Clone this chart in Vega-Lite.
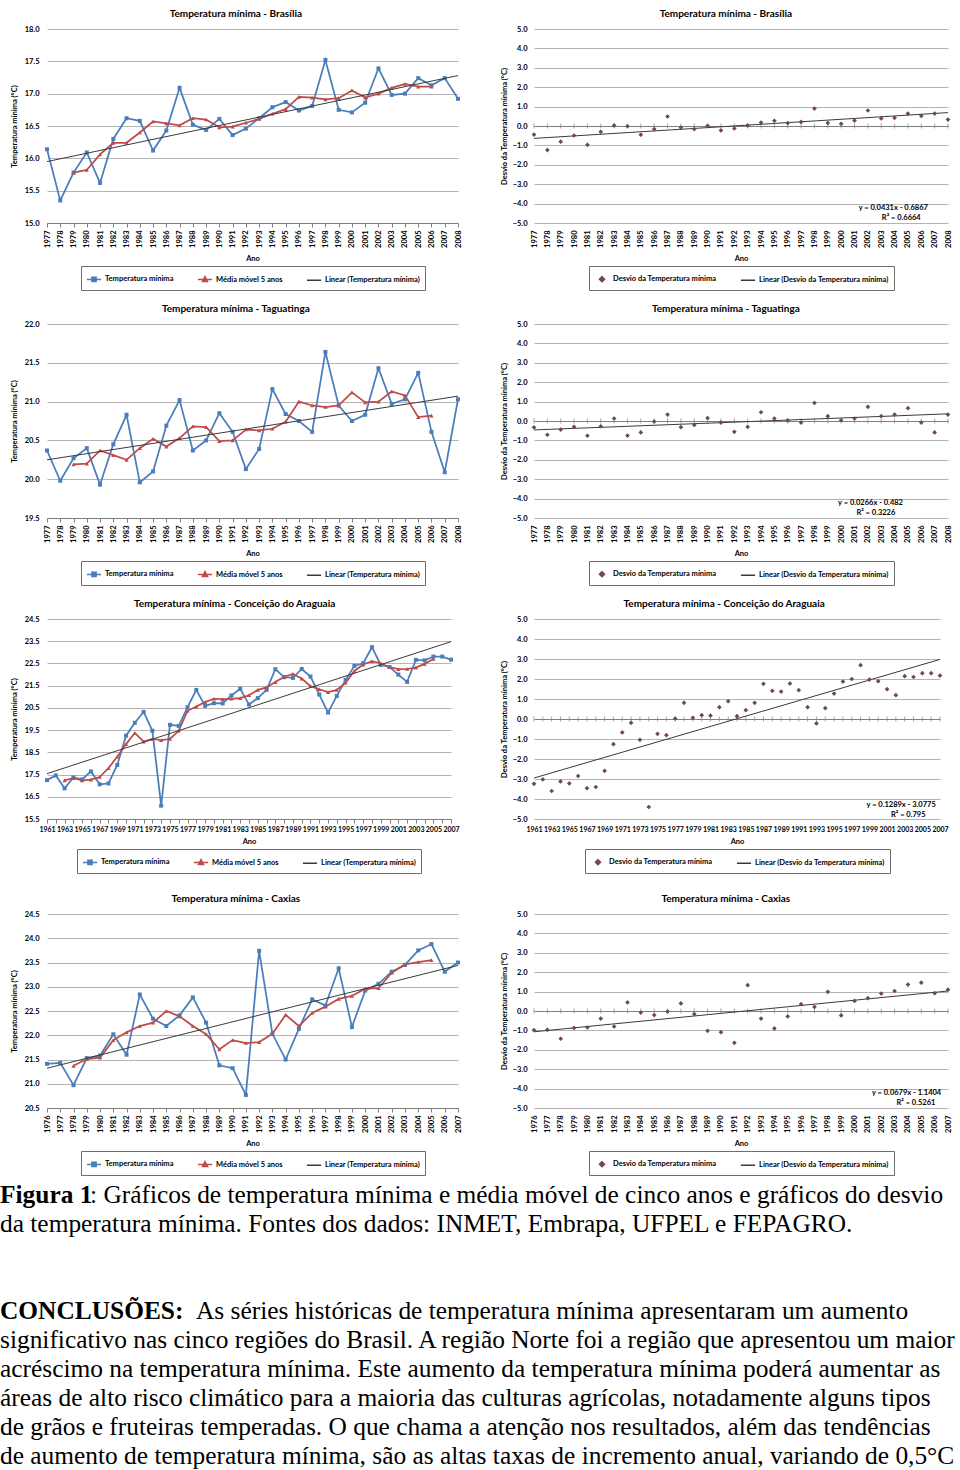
{
"$schema": "https://vega.github.io/schema/vega-lite/v6.json",
"usermeta": {"embedOptions": {"actions": false}},
"background": "white",
"padding": {"left": 0, "top": 9, "right": 0, "bottom": 0},
"autosize": {"type": "pad"},
"datasets": {
"bsb": [
{"ano":1977,"valor":16.14,"serie":"Temperatura mínima"},{"ano":1978,"valor":15.35,"serie":"Temperatura mínima"},{"ano":1979,"valor":15.78,"serie":"Temperatura mínima"},{"ano":1980,"valor":16.09,"serie":"Temperatura mínima"},{"ano":1981,"valor":15.62,"serie":"Temperatura mínima"},{"ano":1982,"valor":16.30,"serie":"Temperatura mínima"},{"ano":1983,"valor":16.62,"serie":"Temperatura mínima"},{"ano":1984,"valor":16.58,"serie":"Temperatura mínima"},{"ano":1985,"valor":16.12,"serie":"Temperatura mínima"},{"ano":1986,"valor":16.43,"serie":"Temperatura mínima"},{"ano":1987,"valor":17.09,"serie":"Temperatura mínima"},{"ano":1988,"valor":16.52,"serie":"Temperatura mínima"},{"ano":1989,"valor":16.44,"serie":"Temperatura mínima"},{"ano":1990,"valor":16.61,"serie":"Temperatura mínima"},{"ano":1991,"valor":16.36,"serie":"Temperatura mínima"},{"ano":1992,"valor":16.46,"serie":"Temperatura mínima"},{"ano":1993,"valor":16.62,"serie":"Temperatura mínima"},{"ano":1994,"valor":16.79,"serie":"Temperatura mínima"},{"ano":1995,"valor":16.87,"serie":"Temperatura mínima"},{"ano":1996,"valor":16.74,"serie":"Temperatura mínima"},{"ano":1997,"valor":16.81,"serie":"Temperatura mínima"},{"ano":1998,"valor":17.52,"serie":"Temperatura mínima"},{"ano":1999,"valor":16.75,"serie":"Temperatura mínima"},{"ano":2000,"valor":16.71,"serie":"Temperatura mínima"},{"ano":2001,"valor":16.86,"serie":"Temperatura mínima"},{"ano":2002,"valor":17.39,"serie":"Temperatura mínima"},{"ano":2003,"valor":16.98,"serie":"Temperatura mínima"},{"ano":2004,"valor":17.00,"serie":"Temperatura mínima"},{"ano":2005,"valor":17.24,"serie":"Temperatura mínima"},{"ano":2006,"valor":17.13,"serie":"Temperatura mínima"},{"ano":2007,"valor":17.24,"serie":"Temperatura mínima"},{"ano":2008,"valor":16.92,"serie":"Temperatura mínima"},
{"ano":1979,"valor":15.78,"serie":"Média móvel 5 anos"},{"ano":1980,"valor":15.82,"serie":"Média móvel 5 anos"},{"ano":1981,"valor":16.06,"serie":"Média móvel 5 anos"},{"ano":1982,"valor":16.24,"serie":"Média móvel 5 anos"},{"ano":1983,"valor":16.24,"serie":"Média móvel 5 anos"},{"ano":1984,"valor":16.40,"serie":"Média móvel 5 anos"},{"ano":1985,"valor":16.57,"serie":"Média móvel 5 anos"},{"ano":1986,"valor":16.54,"serie":"Média móvel 5 anos"},{"ano":1987,"valor":16.51,"serie":"Média móvel 5 anos"},{"ano":1988,"valor":16.62,"serie":"Média móvel 5 anos"},{"ano":1989,"valor":16.60,"serie":"Média móvel 5 anos"},{"ano":1990,"valor":16.48,"serie":"Média móvel 5 anos"},{"ano":1991,"valor":16.49,"serie":"Média móvel 5 anos"},{"ano":1992,"valor":16.55,"serie":"Média móvel 5 anos"},{"ano":1993,"valor":16.61,"serie":"Média móvel 5 anos"},{"ano":1994,"valor":16.69,"serie":"Média móvel 5 anos"},{"ano":1995,"valor":16.76,"serie":"Média móvel 5 anos"},{"ano":1996,"valor":16.95,"serie":"Média móvel 5 anos"},{"ano":1997,"valor":16.94,"serie":"Média móvel 5 anos"},{"ano":1998,"valor":16.91,"serie":"Média móvel 5 anos"},{"ano":1999,"valor":16.93,"serie":"Média móvel 5 anos"},{"ano":2000,"valor":17.05,"serie":"Média móvel 5 anos"},{"ano":2001,"valor":16.94,"serie":"Média móvel 5 anos"},{"ano":2002,"valor":17.00,"serie":"Média móvel 5 anos"},{"ano":2003,"valor":17.09,"serie":"Média móvel 5 anos"},{"ano":2004,"valor":17.15,"serie":"Média móvel 5 anos"},{"ano":2005,"valor":17.11,"serie":"Média móvel 5 anos"},{"ano":2006,"valor":17.11,"serie":"Média móvel 5 anos"},
{"ano":1977,"valor":15.95,"serie":"Linear (Temperatura mínima)"},{"ano":2008,"valor":17.28,"serie":"Linear (Temperatura mínima)"}
],
"bsbd": [
{"ano":1977,"valor":-0.44,"serie":"Desvio da Temperatura mínima"},{"ano":1978,"valor":-1.24,"serie":"Desvio da Temperatura mínima"},{"ano":1979,"valor":-0.81,"serie":"Desvio da Temperatura mínima"},{"ano":1980,"valor":-0.49,"serie":"Desvio da Temperatura mínima"},{"ano":1981,"valor":-0.97,"serie":"Desvio da Temperatura mínima"},{"ano":1982,"valor":-0.30,"serie":"Desvio da Temperatura mínima"},{"ano":1983,"valor":0.03,"serie":"Desvio da Temperatura mínima"},{"ano":1984,"valor":-0.01,"serie":"Desvio da Temperatura mínima"},{"ano":1985,"valor":-0.45,"serie":"Desvio da Temperatura mínima"},{"ano":1986,"valor":-0.16,"serie":"Desvio da Temperatura mínima"},{"ano":1987,"valor":0.49,"serie":"Desvio da Temperatura mínima"},{"ano":1988,"valor":-0.08,"serie":"Desvio da Temperatura mínima"},{"ano":1989,"valor":-0.16,"serie":"Desvio da Temperatura mínima"},{"ano":1990,"valor":0.01,"serie":"Desvio da Temperatura mínima"},{"ano":1991,"valor":-0.23,"serie":"Desvio da Temperatura mínima"},{"ano":1992,"valor":-0.13,"serie":"Desvio da Temperatura mínima"},{"ano":1993,"valor":0.03,"serie":"Desvio da Temperatura mínima"},{"ano":1994,"valor":0.18,"serie":"Desvio da Temperatura mínima"},{"ano":1995,"valor":0.27,"serie":"Desvio da Temperatura mínima"},{"ano":1996,"valor":0.15,"serie":"Desvio da Temperatura mínima"},{"ano":1997,"valor":0.21,"serie":"Desvio da Temperatura mínima"},{"ano":1998,"valor":0.90,"serie":"Desvio da Temperatura mínima"},{"ano":1999,"valor":0.16,"serie":"Desvio da Temperatura mínima"},{"ano":2000,"valor":0.11,"serie":"Desvio da Temperatura mínima"},{"ano":2001,"valor":0.28,"serie":"Desvio da Temperatura mínima"},{"ano":2002,"valor":0.80,"serie":"Desvio da Temperatura mínima"},{"ano":2003,"valor":0.39,"serie":"Desvio da Temperatura mínima"},{"ano":2004,"valor":0.42,"serie":"Desvio da Temperatura mínima"},{"ano":2005,"valor":0.64,"serie":"Desvio da Temperatura mínima"},{"ano":2006,"valor":0.52,"serie":"Desvio da Temperatura mínima"},{"ano":2007,"valor":0.64,"serie":"Desvio da Temperatura mínima"},{"ano":2008,"valor":0.33,"serie":"Desvio da Temperatura mínima"},
{"ano":1977,"valor":-0.64,"serie":"Linear (Desvio da Temperatura mínima)"},{"ano":2008,"valor":0.69,"serie":"Linear (Desvio da Temperatura mínima)"}
],
"tag": [
{"ano":1977,"valor":20.37,"serie":"Temperatura mínima"},{"ano":1978,"valor":19.98,"serie":"Temperatura mínima"},{"ano":1979,"valor":20.27,"serie":"Temperatura mínima"},{"ano":1980,"valor":20.40,"serie":"Temperatura mínima"},{"ano":1981,"valor":19.93,"serie":"Temperatura mínima"},{"ano":1982,"valor":20.45,"serie":"Temperatura mínima"},{"ano":1983,"valor":20.83,"serie":"Temperatura mínima"},{"ano":1984,"valor":19.96,"serie":"Temperatura mínima"},{"ano":1985,"valor":20.10,"serie":"Temperatura mínima"},{"ano":1986,"valor":20.69,"serie":"Temperatura mínima"},{"ano":1987,"valor":21.02,"serie":"Temperatura mínima"},{"ano":1988,"valor":20.37,"serie":"Temperatura mínima"},{"ano":1989,"valor":20.50,"serie":"Temperatura mínima"},{"ano":1990,"valor":20.85,"serie":"Temperatura mínima"},{"ano":1991,"valor":20.61,"serie":"Temperatura mínima"},{"ano":1992,"valor":20.13,"serie":"Temperatura mínima"},{"ano":1993,"valor":20.39,"serie":"Temperatura mínima"},{"ano":1994,"valor":21.16,"serie":"Temperatura mínima"},{"ano":1995,"valor":20.84,"serie":"Temperatura mínima"},{"ano":1996,"valor":20.75,"serie":"Temperatura mínima"},{"ano":1997,"valor":20.61,"serie":"Temperatura mínima"},{"ano":1998,"valor":21.64,"serie":"Temperatura mínima"},{"ano":1999,"valor":20.95,"serie":"Temperatura mínima"},{"ano":2000,"valor":20.75,"serie":"Temperatura mínima"},{"ano":2001,"valor":20.83,"serie":"Temperatura mínima"},{"ano":2002,"valor":21.43,"serie":"Temperatura mínima"},{"ano":2003,"valor":20.97,"serie":"Temperatura mínima"},{"ano":2004,"valor":21.03,"serie":"Temperatura mínima"},{"ano":2005,"valor":21.37,"serie":"Temperatura mínima"},{"ano":2006,"valor":20.61,"serie":"Temperatura mínima"},{"ano":2007,"valor":20.09,"serie":"Temperatura mínima"},{"ano":2008,"valor":21.03,"serie":"Temperatura mínima"},
{"ano":1979,"valor":20.19,"serie":"Média móvel 5 anos"},{"ano":1980,"valor":20.20,"serie":"Média móvel 5 anos"},{"ano":1981,"valor":20.37,"serie":"Média móvel 5 anos"},{"ano":1982,"valor":20.31,"serie":"Média móvel 5 anos"},{"ano":1983,"valor":20.25,"serie":"Média móvel 5 anos"},{"ano":1984,"valor":20.40,"serie":"Média móvel 5 anos"},{"ano":1985,"valor":20.52,"serie":"Média móvel 5 anos"},{"ano":1986,"valor":20.42,"serie":"Média móvel 5 anos"},{"ano":1987,"valor":20.53,"serie":"Média móvel 5 anos"},{"ano":1988,"valor":20.68,"serie":"Média móvel 5 anos"},{"ano":1989,"valor":20.67,"serie":"Média móvel 5 anos"},{"ano":1990,"valor":20.49,"serie":"Média móvel 5 anos"},{"ano":1991,"valor":20.50,"serie":"Média móvel 5 anos"},{"ano":1992,"valor":20.64,"serie":"Média móvel 5 anos"},{"ano":1993,"valor":20.63,"serie":"Média móvel 5 anos"},{"ano":1994,"valor":20.65,"serie":"Média móvel 5 anos"},{"ano":1995,"valor":20.74,"serie":"Média móvel 5 anos"},{"ano":1996,"valor":21.00,"serie":"Média móvel 5 anos"},{"ano":1997,"valor":20.95,"serie":"Média móvel 5 anos"},{"ano":1998,"valor":20.93,"serie":"Média móvel 5 anos"},{"ano":1999,"valor":20.95,"serie":"Média móvel 5 anos"},{"ano":2000,"valor":21.12,"serie":"Média móvel 5 anos"},{"ano":2001,"valor":20.99,"serie":"Média móvel 5 anos"},{"ano":2002,"valor":21.00,"serie":"Média móvel 5 anos"},{"ano":2003,"valor":21.13,"serie":"Média móvel 5 anos"},{"ano":2004,"valor":21.08,"serie":"Média móvel 5 anos"},{"ano":2005,"valor":20.80,"serie":"Média móvel 5 anos"},{"ano":2006,"valor":20.82,"serie":"Média móvel 5 anos"},
{"ano":1977,"valor":20.25,"serie":"Linear (Temperatura mínima)"},{"ano":2008,"valor":21.07,"serie":"Linear (Temperatura mínima)"}
],
"tagd": [
{"ano":1977,"valor":-0.33,"serie":"Desvio da Temperatura mínima"},{"ano":1978,"valor":-0.71,"serie":"Desvio da Temperatura mínima"},{"ano":1979,"valor":-0.44,"serie":"Desvio da Temperatura mínima"},{"ano":1980,"valor":-0.30,"serie":"Desvio da Temperatura mínima"},{"ano":1981,"valor":-0.76,"serie":"Desvio da Temperatura mínima"},{"ano":1982,"valor":-0.27,"serie":"Desvio da Temperatura mínima"},{"ano":1983,"valor":0.13,"serie":"Desvio da Temperatura mínima"},{"ano":1984,"valor":-0.75,"serie":"Desvio da Temperatura mínima"},{"ano":1985,"valor":-0.59,"serie":"Desvio da Temperatura mínima"},{"ano":1986,"valor":-0.03,"serie":"Desvio da Temperatura mínima"},{"ano":1987,"valor":0.33,"serie":"Desvio da Temperatura mínima"},{"ano":1988,"valor":-0.32,"serie":"Desvio da Temperatura mínima"},{"ano":1989,"valor":-0.20,"serie":"Desvio da Temperatura mínima"},{"ano":1990,"valor":0.15,"serie":"Desvio da Temperatura mínima"},{"ano":1991,"valor":-0.08,"serie":"Desvio da Temperatura mínima"},{"ano":1992,"valor":-0.56,"serie":"Desvio da Temperatura mínima"},{"ano":1993,"valor":-0.30,"serie":"Desvio da Temperatura mínima"},{"ano":1994,"valor":0.45,"serie":"Desvio da Temperatura mínima"},{"ano":1995,"valor":0.13,"serie":"Desvio da Temperatura mínima"},{"ano":1996,"valor":0.03,"serie":"Desvio da Temperatura mínima"},{"ano":1997,"valor":-0.08,"serie":"Desvio da Temperatura mínima"},{"ano":1998,"valor":0.93,"serie":"Desvio da Temperatura mínima"},{"ano":1999,"valor":0.25,"serie":"Desvio da Temperatura mínima"},{"ano":2000,"valor":0.04,"serie":"Desvio da Temperatura mínima"},{"ano":2001,"valor":0.13,"serie":"Desvio da Temperatura mínima"},{"ano":2002,"valor":0.73,"serie":"Desvio da Temperatura mínima"},{"ano":2003,"valor":0.25,"serie":"Desvio da Temperatura mínima"},{"ano":2004,"valor":0.33,"serie":"Desvio da Temperatura mínima"},{"ano":2005,"valor":0.66,"serie":"Desvio da Temperatura mínima"},{"ano":2006,"valor":-0.08,"serie":"Desvio da Temperatura mínima"},{"ano":2007,"valor":-0.59,"serie":"Desvio da Temperatura mínima"},{"ano":2008,"valor":0.33,"serie":"Desvio da Temperatura mínima"},
{"ano":1977,"valor":-0.46,"serie":"Linear (Desvio da Temperatura mínima)"},{"ano":2008,"valor":0.37,"serie":"Linear (Desvio da Temperatura mínima)"}
],
"cda": [
{"ano":1961,"valor":17.25,"serie":"Temperatura mínima"},{"ano":1962,"valor":17.46,"serie":"Temperatura mínima"},{"ano":1963,"valor":16.88,"serie":"Temperatura mínima"},{"ano":1964,"valor":17.37,"serie":"Temperatura mínima"},{"ano":1965,"valor":17.28,"serie":"Temperatura mínima"},{"ano":1966,"valor":17.64,"serie":"Temperatura mínima"},{"ano":1967,"valor":17.06,"serie":"Temperatura mínima"},{"ano":1968,"valor":17.10,"serie":"Temperatura mínima"},{"ano":1969,"valor":17.93,"serie":"Temperatura mínima"},{"ano":1970,"valor":19.25,"serie":"Temperatura mínima"},{"ano":1971,"valor":19.83,"serie":"Temperatura mínima"},{"ano":1972,"valor":20.32,"serie":"Temperatura mínima"},{"ano":1973,"valor":19.47,"serie":"Temperatura mínima"},{"ano":1974,"valor":16.10,"serie":"Temperatura mínima"},{"ano":1975,"valor":19.74,"serie":"Temperatura mínima"},{"ano":1976,"valor":19.69,"serie":"Temperatura mínima"},{"ano":1977,"valor":20.53,"serie":"Temperatura mínima"},{"ano":1978,"valor":21.31,"serie":"Temperatura mínima"},{"ano":1979,"valor":20.59,"serie":"Temperatura mínima"},{"ano":1980,"valor":20.71,"serie":"Temperatura mínima"},{"ano":1981,"valor":20.70,"serie":"Temperatura mínima"},{"ano":1982,"valor":21.06,"serie":"Temperatura mínima"},{"ano":1983,"valor":21.36,"serie":"Temperatura mínima"},{"ano":1984,"valor":20.65,"serie":"Temperatura mínima"},{"ano":1985,"valor":20.94,"serie":"Temperatura mínima"},{"ano":1986,"valor":21.31,"serie":"Temperatura mínima"},{"ano":1987,"valor":22.24,"serie":"Temperatura mínima"},{"ano":1988,"valor":21.88,"serie":"Temperatura mínima"},{"ano":1989,"valor":21.85,"serie":"Temperatura mínima"},{"ano":1990,"valor":22.25,"serie":"Temperatura mínima"},{"ano":1991,"valor":21.91,"serie":"Temperatura mínima"},{"ano":1992,"valor":21.10,"serie":"Temperatura mínima"},{"ano":1993,"valor":20.29,"serie":"Temperatura mínima"},{"ano":1994,"valor":21.04,"serie":"Temperatura mínima"},{"ano":1995,"valor":21.76,"serie":"Temperatura mínima"},{"ano":1996,"valor":22.39,"serie":"Temperatura mínima"},{"ano":1997,"valor":22.51,"serie":"Temperatura mínima"},{"ano":1998,"valor":23.23,"serie":"Temperatura mínima"},{"ano":1999,"valor":22.43,"serie":"Temperatura mínima"},{"ano":2000,"valor":22.34,"serie":"Temperatura mínima"},{"ano":2001,"valor":22.00,"serie":"Temperatura mínima"},{"ano":2002,"valor":21.67,"serie":"Temperatura mínima"},{"ano":2003,"valor":22.66,"serie":"Temperatura mínima"},{"ano":2004,"valor":22.64,"serie":"Temperatura mínima"},{"ano":2005,"valor":22.81,"serie":"Temperatura mínima"},{"ano":2006,"valor":22.81,"serie":"Temperatura mínima"},{"ano":2007,"valor":22.67,"serie":"Temperatura mínima"},
{"ano":1963,"valor":17.24,"serie":"Média móvel 5 anos"},{"ano":1964,"valor":17.34,"serie":"Média móvel 5 anos"},{"ano":1965,"valor":17.24,"serie":"Média móvel 5 anos"},{"ano":1966,"valor":17.27,"serie":"Média móvel 5 anos"},{"ano":1967,"valor":17.39,"serie":"Média móvel 5 anos"},{"ano":1968,"valor":17.79,"serie":"Média móvel 5 anos"},{"ano":1969,"valor":18.30,"serie":"Média móvel 5 anos"},{"ano":1970,"valor":18.87,"serie":"Média móvel 5 anos"},{"ano":1971,"valor":19.37,"serie":"Média móvel 5 anos"},{"ano":1972,"valor":18.98,"serie":"Média móvel 5 anos"},{"ano":1973,"valor":19.10,"serie":"Média móvel 5 anos"},{"ano":1974,"valor":19.05,"serie":"Média móvel 5 anos"},{"ano":1975,"valor":19.10,"serie":"Média móvel 5 anos"},{"ano":1976,"valor":19.47,"serie":"Média móvel 5 anos"},{"ano":1977,"valor":20.37,"serie":"Média móvel 5 anos"},{"ano":1978,"valor":20.56,"serie":"Média móvel 5 anos"},{"ano":1979,"valor":20.76,"serie":"Média móvel 5 anos"},{"ano":1980,"valor":20.91,"serie":"Média móvel 5 anos"},{"ano":1981,"valor":20.89,"serie":"Média móvel 5 anos"},{"ano":1982,"valor":20.91,"serie":"Média móvel 5 anos"},{"ano":1983,"valor":20.94,"serie":"Média móvel 5 anos"},{"ano":1984,"valor":21.07,"serie":"Média móvel 5 anos"},{"ano":1985,"valor":21.31,"serie":"Média móvel 5 anos"},{"ano":1986,"valor":21.42,"serie":"Média móvel 5 anos"},{"ano":1987,"valor":21.66,"serie":"Média móvel 5 anos"},{"ano":1988,"valor":21.90,"serie":"Média móvel 5 anos"},{"ano":1989,"valor":22.03,"serie":"Média móvel 5 anos"},{"ano":1990,"valor":21.82,"serie":"Média móvel 5 anos"},{"ano":1991,"valor":21.48,"serie":"Média móvel 5 anos"},{"ano":1992,"valor":21.34,"serie":"Média móvel 5 anos"},{"ano":1993,"valor":21.21,"serie":"Média móvel 5 anos"},{"ano":1994,"valor":21.31,"serie":"Média móvel 5 anos"},{"ano":1995,"valor":21.63,"serie":"Média móvel 5 anos"},{"ano":1996,"valor":22.16,"serie":"Média móvel 5 anos"},{"ano":1997,"valor":22.45,"serie":"Média móvel 5 anos"},{"ano":1998,"valor":22.60,"serie":"Média móvel 5 anos"},{"ano":1999,"valor":22.51,"serie":"Média móvel 5 anos"},{"ano":2000,"valor":22.33,"serie":"Média móvel 5 anos"},{"ano":2001,"valor":22.24,"serie":"Média móvel 5 anos"},{"ano":2002,"valor":22.25,"serie":"Média móvel 5 anos"},{"ano":2003,"valor":22.31,"serie":"Média móvel 5 anos"},{"ano":2004,"valor":22.48,"serie":"Média móvel 5 anos"},{"ano":2005,"valor":22.70,"serie":"Média móvel 5 anos"},
{"ano":1961,"valor":17.54,"serie":"Linear (Temperatura mínima)"},{"ano":2007,"valor":23.48,"serie":"Linear (Temperatura mínima)"}
],
"cdad": [
{"ano":1961,"valor":-3.24,"serie":"Desvio da Temperatura mínima"},{"ano":1962,"valor":-3.02,"serie":"Desvio da Temperatura mínima"},{"ano":1963,"valor":-3.60,"serie":"Desvio da Temperatura mínima"},{"ano":1964,"valor":-3.12,"serie":"Desvio da Temperatura mínima"},{"ano":1965,"valor":-3.22,"serie":"Desvio da Temperatura mínima"},{"ano":1966,"valor":-2.85,"serie":"Desvio da Temperatura mínima"},{"ano":1967,"valor":-3.46,"serie":"Desvio da Temperatura mínima"},{"ano":1968,"valor":-3.40,"serie":"Desvio da Temperatura mínima"},{"ano":1969,"valor":-2.59,"serie":"Desvio da Temperatura mínima"},{"ano":1970,"valor":-1.26,"serie":"Desvio da Temperatura mínima"},{"ano":1971,"valor":-0.67,"serie":"Desvio da Temperatura mínima"},{"ano":1972,"valor":-0.19,"serie":"Desvio da Temperatura mínima"},{"ano":1973,"valor":-1.04,"serie":"Desvio da Temperatura mínima"},{"ano":1974,"valor":-4.40,"serie":"Desvio da Temperatura mínima"},{"ano":1975,"valor":-0.74,"serie":"Desvio da Temperatura mínima"},{"ano":1976,"valor":-0.81,"serie":"Desvio da Temperatura mínima"},{"ano":1977,"valor":0.02,"serie":"Desvio da Temperatura mínima"},{"ano":1978,"valor":0.81,"serie":"Desvio da Temperatura mínima"},{"ano":1979,"valor":0.06,"serie":"Desvio da Temperatura mínima"},{"ano":1980,"valor":0.19,"serie":"Desvio da Temperatura mínima"},{"ano":1981,"valor":0.17,"serie":"Desvio da Temperatura mínima"},{"ano":1982,"valor":0.59,"serie":"Desvio da Temperatura mínima"},{"ano":1983,"valor":0.89,"serie":"Desvio da Temperatura mínima"},{"ano":1984,"valor":0.14,"serie":"Desvio da Temperatura mínima"},{"ano":1985,"valor":0.44,"serie":"Desvio da Temperatura mínima"},{"ano":1986,"valor":0.81,"serie":"Desvio da Temperatura mínima"},{"ano":1987,"valor":1.76,"serie":"Desvio da Temperatura mínima"},{"ano":1988,"valor":1.41,"serie":"Desvio da Temperatura mínima"},{"ano":1989,"valor":1.37,"serie":"Desvio da Temperatura mínima"},{"ano":1990,"valor":1.77,"serie":"Desvio da Temperatura mínima"},{"ano":1991,"valor":1.44,"serie":"Desvio da Temperatura mínima"},{"ano":1992,"valor":0.59,"serie":"Desvio da Temperatura mínima"},{"ano":1993,"valor":-0.22,"serie":"Desvio da Temperatura mínima"},{"ano":1994,"valor":0.54,"serie":"Desvio da Temperatura mínima"},{"ano":1995,"valor":1.27,"serie":"Desvio da Temperatura mínima"},{"ano":1996,"valor":1.87,"serie":"Desvio da Temperatura mínima"},{"ano":1997,"valor":2.00,"serie":"Desvio da Temperatura mínima"},{"ano":1998,"valor":2.69,"serie":"Desvio da Temperatura mínima"},{"ano":1999,"valor":1.97,"serie":"Desvio da Temperatura mínima"},{"ano":2000,"valor":1.89,"serie":"Desvio da Temperatura mínima"},{"ano":2001,"valor":1.49,"serie":"Desvio da Temperatura mínima"},{"ano":2002,"valor":1.19,"serie":"Desvio da Temperatura mínima"},{"ano":2003,"valor":2.14,"serie":"Desvio da Temperatura mínima"},{"ano":2004,"valor":2.10,"serie":"Desvio da Temperatura mínima"},{"ano":2005,"valor":2.29,"serie":"Desvio da Temperatura mínima"},{"ano":2006,"valor":2.29,"serie":"Desvio da Temperatura mínima"},{"ano":2007,"valor":2.17,"serie":"Desvio da Temperatura mínima"},
{"ano":1961,"valor":-2.95,"serie":"Linear (Desvio da Temperatura mínima)"},{"ano":2007,"valor":2.98,"serie":"Linear (Desvio da Temperatura mínima)"}
],
"cax": [
{"ano":1976,"valor":21.41,"serie":"Temperatura mínima"},{"ano":1977,"valor":21.43,"serie":"Temperatura mínima"},{"ano":1978,"valor":20.97,"serie":"Temperatura mínima"},{"ano":1979,"valor":21.53,"serie":"Temperatura mínima"},{"ano":1980,"valor":21.58,"serie":"Temperatura mínima"},{"ano":1981,"valor":22.02,"serie":"Temperatura mínima"},{"ano":1982,"valor":21.60,"serie":"Temperatura mínima"},{"ano":1983,"valor":22.84,"serie":"Temperatura mínima"},{"ano":1984,"valor":22.34,"serie":"Temperatura mínima"},{"ano":1985,"valor":22.19,"serie":"Temperatura mínima"},{"ano":1986,"valor":22.41,"serie":"Temperatura mínima"},{"ano":1987,"valor":22.78,"serie":"Temperatura mínima"},{"ano":1988,"valor":22.26,"serie":"Temperatura mínima"},{"ano":1989,"valor":21.38,"serie":"Temperatura mínima"},{"ano":1990,"valor":21.32,"serie":"Temperatura mínima"},{"ano":1991,"valor":20.77,"serie":"Temperatura mínima"},{"ano":1992,"valor":23.74,"serie":"Temperatura mínima"},{"ano":1993,"valor":22.03,"serie":"Temperatura mínima"},{"ano":1994,"valor":21.50,"serie":"Temperatura mínima"},{"ano":1995,"valor":22.13,"serie":"Temperatura mínima"},{"ano":1996,"valor":22.74,"serie":"Temperatura mínima"},{"ano":1997,"valor":22.61,"serie":"Temperatura mínima"},{"ano":1998,"valor":23.38,"serie":"Temperatura mínima"},{"ano":1999,"valor":22.17,"serie":"Temperatura mínima"},{"ano":2000,"valor":22.92,"serie":"Temperatura mínima"},{"ano":2001,"valor":23.06,"serie":"Temperatura mínima"},{"ano":2002,"valor":23.31,"serie":"Temperatura mínima"},{"ano":2003,"valor":23.45,"serie":"Temperatura mínima"},{"ano":2004,"valor":23.75,"serie":"Temperatura mínima"},{"ano":2005,"valor":23.88,"serie":"Temperatura mínima"},{"ano":2006,"valor":23.31,"serie":"Temperatura mínima"},{"ano":2007,"valor":23.50,"serie":"Temperatura mínima"},
{"ano":1978,"valor":21.37,"serie":"Média móvel 5 anos"},{"ano":1979,"valor":21.51,"serie":"Média móvel 5 anos"},{"ano":1980,"valor":21.54,"serie":"Média móvel 5 anos"},{"ano":1981,"valor":21.90,"serie":"Média móvel 5 anos"},{"ano":1982,"valor":22.06,"serie":"Média móvel 5 anos"},{"ano":1983,"valor":22.19,"serie":"Média móvel 5 anos"},{"ano":1984,"valor":22.26,"serie":"Média móvel 5 anos"},{"ano":1985,"valor":22.50,"serie":"Média móvel 5 anos"},{"ano":1986,"valor":22.39,"serie":"Média móvel 5 anos"},{"ano":1987,"valor":22.19,"serie":"Média móvel 5 anos"},{"ano":1988,"valor":22.02,"serie":"Média móvel 5 anos"},{"ano":1989,"valor":21.71,"serie":"Média móvel 5 anos"},{"ano":1990,"valor":21.90,"serie":"Média móvel 5 anos"},{"ano":1991,"valor":21.84,"serie":"Média móvel 5 anos"},{"ano":1992,"valor":21.86,"serie":"Média móvel 5 anos"},{"ano":1993,"valor":22.03,"serie":"Média móvel 5 anos"},{"ano":1994,"valor":22.42,"serie":"Média móvel 5 anos"},{"ano":1995,"valor":22.19,"serie":"Média móvel 5 anos"},{"ano":1996,"valor":22.46,"serie":"Média móvel 5 anos"},{"ano":1997,"valor":22.59,"serie":"Média móvel 5 anos"},{"ano":1998,"valor":22.75,"serie":"Média móvel 5 anos"},{"ano":1999,"valor":22.81,"serie":"Média móvel 5 anos"},{"ano":2000,"valor":22.96,"serie":"Média móvel 5 anos"},{"ano":2001,"valor":22.97,"serie":"Média móvel 5 anos"},{"ano":2002,"valor":23.29,"serie":"Média móvel 5 anos"},{"ano":2003,"valor":23.46,"serie":"Média móvel 5 anos"},{"ano":2004,"valor":23.51,"serie":"Média móvel 5 anos"},{"ano":2005,"valor":23.55,"serie":"Média móvel 5 anos"},
{"ano":1976,"valor":21.32,"serie":"Linear (Temperatura mínima)"},{"ano":2007,"valor":23.44,"serie":"Linear (Temperatura mínima)"}
],
"caxd": [
{"ano":1976,"valor":-0.99,"serie":"Desvio da Temperatura mínima"},{"ano":1977,"valor":-0.97,"serie":"Desvio da Temperatura mínima"},{"ano":1978,"valor":-1.43,"serie":"Desvio da Temperatura mínima"},{"ano":1979,"valor":-0.87,"serie":"Desvio da Temperatura mínima"},{"ano":1980,"valor":-0.85,"serie":"Desvio da Temperatura mínima"},{"ano":1981,"valor":-0.39,"serie":"Desvio da Temperatura mínima"},{"ano":1982,"valor":-0.80,"serie":"Desvio da Temperatura mínima"},{"ano":1983,"valor":0.44,"serie":"Desvio da Temperatura mínima"},{"ano":1984,"valor":-0.08,"serie":"Desvio da Temperatura mínima"},{"ano":1985,"valor":-0.21,"serie":"Desvio da Temperatura mínima"},{"ano":1986,"valor":-0.03,"serie":"Desvio da Temperatura mínima"},{"ano":1987,"valor":0.39,"serie":"Desvio da Temperatura mínima"},{"ano":1988,"valor":-0.16,"serie":"Desvio da Temperatura mínima"},{"ano":1989,"valor":-1.02,"serie":"Desvio da Temperatura mínima"},{"ano":1990,"valor":-1.09,"serie":"Desvio da Temperatura mínima"},{"ano":1991,"valor":-1.64,"serie":"Desvio da Temperatura mínima"},{"ano":1992,"valor":1.33,"serie":"Desvio da Temperatura mínima"},{"ano":1993,"valor":-0.39,"serie":"Desvio da Temperatura mínima"},{"ano":1994,"valor":-0.90,"serie":"Desvio da Temperatura mínima"},{"ano":1995,"valor":-0.28,"serie":"Desvio da Temperatura mínima"},{"ano":1996,"valor":0.35,"serie":"Desvio da Temperatura mínima"},{"ano":1997,"valor":0.21,"serie":"Desvio da Temperatura mínima"},{"ano":1998,"valor":0.99,"serie":"Desvio da Temperatura mínima"},{"ano":1999,"valor":-0.23,"serie":"Desvio da Temperatura mínima"},{"ano":2000,"valor":0.52,"serie":"Desvio da Temperatura mínima"},{"ano":2001,"valor":0.66,"serie":"Desvio da Temperatura mínima"},{"ano":2002,"valor":0.90,"serie":"Desvio da Temperatura mínima"},{"ano":2003,"valor":1.03,"serie":"Desvio da Temperatura mínima"},{"ano":2004,"valor":1.36,"serie":"Desvio da Temperatura mínima"},{"ano":2005,"valor":1.46,"serie":"Desvio da Temperatura mínima"},{"ano":2006,"valor":0.92,"serie":"Desvio da Temperatura mínima"},{"ano":2007,"valor":1.10,"serie":"Desvio da Temperatura mínima"},
{"ano":1976,"valor":-1.07,"serie":"Linear (Desvio da Temperatura mínima)"},{"ano":2007,"valor":1.03,"serie":"Linear (Desvio da Temperatura mínima)"}
],
"txt": [
{"linha":0,"estilo":"negrito","texto":"Figura 1"},
{"linha":0,"estilo":"cont1","texto":": Gráficos de temperatura mínima e média móvel de cinco anos e gráficos do desvio"},
{"linha":1,"estilo":"normal","texto":"da temperatura mínima. Fontes dos dados: INMET, Embrapa, UFPEL e FEPAGRO."},
{"linha":4,"estilo":"negrito","texto":"CONCLUSÕES:"},
{"linha":4,"estilo":"cont2","texto":"As séries históricas de temperatura mínima apresentaram um aumento"},
{"linha":5,"estilo":"normal","texto":"significativo nas cinco regiões do Brasil. A região Norte foi a região que apresentou um maior"},
{"linha":6,"estilo":"normal","texto":"acréscimo na temperatura mínima. Este aumento da temperatura mínima poderá aumentar as"},
{"linha":7,"estilo":"normal","texto":"áreas de alto risco climático para a maioria das culturas agrícolas, notadamente alguns tipos"},
{"linha":8,"estilo":"normal","texto":"de grãos e fruteiras temperadas. O que chama a atenção nos resultados, além das tendências"},
{"linha":9,"estilo":"normal","texto":"de aumento de temperatura mínima, são as altas taxas de incremento anual, variando de 0,5°C"}
]
},
"resolve": {"scale": {"color": "independent", "shape": "independent"}, "legend": {"color": "independent", "shape": "independent"}},
"bounds": "flush",
"spacing": 295,
"vconcat": [
{
"hconcat": [
{
"width": 411, "height": 194,
"title": "Temperatura mínima - Brasília",
"data": {"name": "bsb"},
"encoding": {
"x": {"field": "ano", "type": "quantitative", "title": "Ano", "scale": {"domain": [1977, 2008], "nice": false, "zero": false}, "axis": {"values": [1977,1978,1979,1980,1981,1982,1983,1984,1985,1986,1987,1988,1989,1990,1991,1992,1993,1994,1995,1996,1997,1998,1999,2000,2001,2002,2003,2004,2005,2006,2007,2008], "labelAngle": -90, "format": "d"}},
"y": {"field": "valor", "type": "quantitative", "title": "Temperatura mínima (°C)", "scale": {"domain": [15, 18], "nice": false, "zero": false}, "axis": {"values": [15,15.5,16,16.5,17,17.5,18], "format": ".1f"}},
"color": {"field": "serie", "type": "nominal", "scale": {"domain": ["Temperatura mínima", "Média móvel 5 anos", "Linear (Temperatura mínima)"], "range": ["#4a7ebb", "#be4b48", "#3a3a3a"]}, "legend": {"title": null}}
},
"layer": [
{"transform": [{"filter": "datum.serie !== 'Linear (Temperatura mínima)'"}], "mark": {"type": "line", "strokeWidth": 1.75}},
{"transform": [{"filter": "datum.serie === 'Temperatura mínima'"}], "mark": {"type": "point", "shape": "square", "filled": true, "opacity": 1, "size": 16}},
{"transform": [{"filter": "datum.serie === 'Média móvel 5 anos'"}], "mark": {"type": "point", "shape": "triangle-up", "filled": true, "opacity": 1, "size": 18}},
{"transform": [{"filter": "datum.serie === 'Linear (Temperatura mínima)'"}], "mark": {"type": "line", "strokeWidth": 1}},
{"transform": [{"filter": "false"}], "mark": {"type": "point", "filled": false, "opacity": 1}, "encoding": {"shape": {"field": "serie", "type": "nominal", "scale": {"domain": ["Temperatura mínima", "Média móvel 5 anos", "Linear (Temperatura mínima)"], "range": ["M-1,0H1M-0.3,-0.3H0.3V0.3H-0.3Z", "M-1,0H1M0,-0.42L0.36,0.26H-0.36Z", "M-1,0H1"]}, "legend": {"title": null}}}}
]
},
{
"width": 414, "height": 194,
"title": "Temperatura mínima - Brasília",
"data": {"name": "bsbd"},
"encoding": {
"x": {"field": "ano", "type": "quantitative", "title": "Ano", "scale": {"domain": [1977, 2008], "nice": false, "zero": false}, "axis": {"values": [1977,1978,1979,1980,1981,1982,1983,1984,1985,1986,1987,1988,1989,1990,1991,1992,1993,1994,1995,1996,1997,1998,1999,2000,2001,2002,2003,2004,2005,2006,2007,2008], "labelAngle": -90, "format": "d", "domain": false, "ticks": false, "labelPadding": 7}},
"y": {"field": "valor", "type": "quantitative", "title": "Desvio da Temperatura mínima (°C)", "scale": {"domain": [-5, 5], "nice": false, "zero": false}, "axis": {"values": [-5,-4,-3,-2,-1,0,1,2,3,4,5], "format": ".1f", "labelPadding": 7, "titlePadding": 4, "gridColor": {"condition": {"test": "datum.value === 0", "value": "#7f7f7f"}, "value": "#b4b4b4"}}},
"color": {"field": "serie", "type": "nominal", "scale": {"domain": ["Desvio da Temperatura mínima", "Linear (Desvio da Temperatura mínima)"], "range": ["#73474f", "#3a3a3a"]}, "legend": {"title": null}}
},
"layer": [
{"transform": [{"filter": "datum.serie === 'Desvio da Temperatura mínima'"}], "mark": {"type": "tick", "orient": "vertical", "size": 5, "thickness": 1}, "encoding": {"y": {"datum": 0}, "color": {"value": "#7f7f7f"}}},
{"transform": [{"filter": "datum.serie === 'Linear (Desvio da Temperatura mínima)'"}], "mark": {"type": "line", "strokeWidth": 1}},
{"transform": [{"filter": "datum.serie === 'Desvio da Temperatura mínima'"}], "mark": {"type": "point", "shape": "diamond", "filled": true, "opacity": 1, "size": 22}},
{"transform": [{"filter": "false"}], "mark": {"type": "point", "filled": false, "opacity": 1}, "encoding": {"shape": {"field": "serie", "type": "nominal", "scale": {"domain": ["Desvio da Temperatura mínima", "Linear (Desvio da Temperatura mínima)"], "range": ["M0,-0.36L0.36,0L0,0.36L-0.36,0Z", "M-1,0H1"]}, "legend": {"title": null}}}},
{"transform": [{"filter": "datum.serie === 'Linear (Desvio da Temperatura mínima)' && datum.ano === 2008"}], "mark": {"type": "text", "font": "Lato", "fontSize": 7.5, "fontWeight": "bold", "align": "center", "baseline": "middle", "color": "#000000"}, "encoding": {"x": {"datum": 2003.9, "type": "quantitative"}, "y": {"datum": -4.23, "type": "quantitative"}, "text": {"value": "y = 0.0431x - 0.6867"}, "color": {"value": "#000000"}}},
{"transform": [{"filter": "datum.serie === 'Linear (Desvio da Temperatura mínima)' && datum.ano === 2008"}], "mark": {"type": "text", "font": "Lato", "fontSize": 7.5, "fontWeight": "bold", "align": "center", "baseline": "middle", "color": "#000000"}, "encoding": {"x": {"datum": 2004.5, "type": "quantitative"}, "y": {"datum": -4.76, "type": "quantitative"}, "text": {"value": "R² = 0.6664"}, "color": {"value": "#000000"}}}
]
}
],
"spacing": 76, "bounds": "flush",
"resolve": {"scale": {"color": "independent", "shape": "independent"}, "legend": {"color": "independent", "shape": "independent"}}
},
{
"hconcat": [
{
"width": 411, "height": 194,
"title": "Temperatura mínima - Taguatinga",
"data": {"name": "tag"},
"encoding": {
"x": {"field": "ano", "type": "quantitative", "title": "Ano", "scale": {"domain": [1977, 2008], "nice": false, "zero": false}, "axis": {"values": [1977,1978,1979,1980,1981,1982,1983,1984,1985,1986,1987,1988,1989,1990,1991,1992,1993,1994,1995,1996,1997,1998,1999,2000,2001,2002,2003,2004,2005,2006,2007,2008], "labelAngle": -90, "format": "d"}},
"y": {"field": "valor", "type": "quantitative", "title": "Temperatura mínima (°C)", "scale": {"domain": [19.5, 22], "nice": false, "zero": false}, "axis": {"values": [19.5,20,20.5,21,21.5,22], "format": ".1f"}},
"color": {"field": "serie", "type": "nominal", "scale": {"domain": ["Temperatura mínima", "Média móvel 5 anos", "Linear (Temperatura mínima)"], "range": ["#4a7ebb", "#be4b48", "#3a3a3a"]}, "legend": {"title": null}}
},
"layer": [
{"transform": [{"filter": "datum.serie !== 'Linear (Temperatura mínima)'"}], "mark": {"type": "line", "strokeWidth": 1.75}},
{"transform": [{"filter": "datum.serie === 'Temperatura mínima'"}], "mark": {"type": "point", "shape": "square", "filled": true, "opacity": 1, "size": 16}},
{"transform": [{"filter": "datum.serie === 'Média móvel 5 anos'"}], "mark": {"type": "point", "shape": "triangle-up", "filled": true, "opacity": 1, "size": 18}},
{"transform": [{"filter": "datum.serie === 'Linear (Temperatura mínima)'"}], "mark": {"type": "line", "strokeWidth": 1}},
{"transform": [{"filter": "false"}], "mark": {"type": "point", "filled": false, "opacity": 1}, "encoding": {"shape": {"field": "serie", "type": "nominal", "scale": {"domain": ["Temperatura mínima", "Média móvel 5 anos", "Linear (Temperatura mínima)"], "range": ["M-1,0H1M-0.3,-0.3H0.3V0.3H-0.3Z", "M-1,0H1M0,-0.42L0.36,0.26H-0.36Z", "M-1,0H1"]}, "legend": {"title": null}}}}
]
},
{
"width": 414, "height": 194,
"title": "Temperatura mínima - Taguatinga",
"data": {"name": "tagd"},
"encoding": {
"x": {"field": "ano", "type": "quantitative", "title": "Ano", "scale": {"domain": [1977, 2008], "nice": false, "zero": false}, "axis": {"values": [1977,1978,1979,1980,1981,1982,1983,1984,1985,1986,1987,1988,1989,1990,1991,1992,1993,1994,1995,1996,1997,1998,1999,2000,2001,2002,2003,2004,2005,2006,2007,2008], "labelAngle": -90, "format": "d", "domain": false, "ticks": false, "labelPadding": 7}},
"y": {"field": "valor", "type": "quantitative", "title": "Desvio da Temperatura mínima (°C)", "scale": {"domain": [-5, 5], "nice": false, "zero": false}, "axis": {"values": [-5,-4,-3,-2,-1,0,1,2,3,4,5], "format": ".1f", "labelPadding": 7, "titlePadding": 4, "gridColor": {"condition": {"test": "datum.value === 0", "value": "#7f7f7f"}, "value": "#b4b4b4"}}},
"color": {"field": "serie", "type": "nominal", "scale": {"domain": ["Desvio da Temperatura mínima", "Linear (Desvio da Temperatura mínima)"], "range": ["#73474f", "#3a3a3a"]}, "legend": {"title": null}}
},
"layer": [
{"transform": [{"filter": "datum.serie === 'Desvio da Temperatura mínima'"}], "mark": {"type": "tick", "orient": "vertical", "size": 5, "thickness": 1}, "encoding": {"y": {"datum": 0}, "color": {"value": "#7f7f7f"}}},
{"transform": [{"filter": "datum.serie === 'Linear (Desvio da Temperatura mínima)'"}], "mark": {"type": "line", "strokeWidth": 1}},
{"transform": [{"filter": "datum.serie === 'Desvio da Temperatura mínima'"}], "mark": {"type": "point", "shape": "diamond", "filled": true, "opacity": 1, "size": 22}},
{"transform": [{"filter": "false"}], "mark": {"type": "point", "filled": false, "opacity": 1}, "encoding": {"shape": {"field": "serie", "type": "nominal", "scale": {"domain": ["Desvio da Temperatura mínima", "Linear (Desvio da Temperatura mínima)"], "range": ["M0,-0.36L0.36,0L0,0.36L-0.36,0Z", "M-1,0H1"]}, "legend": {"title": null}}}},
{"transform": [{"filter": "datum.serie === 'Linear (Desvio da Temperatura mínima)' && datum.ano === 2008"}], "mark": {"type": "text", "font": "Lato", "fontSize": 7.5, "fontWeight": "bold", "align": "center", "baseline": "middle", "color": "#000000"}, "encoding": {"x": {"datum": 2002.2, "type": "quantitative"}, "y": {"datum": -4.23, "type": "quantitative"}, "text": {"value": "y = 0.0266x - 0.482"}, "color": {"value": "#000000"}}},
{"transform": [{"filter": "datum.serie === 'Linear (Desvio da Temperatura mínima)' && datum.ano === 2008"}], "mark": {"type": "text", "font": "Lato", "fontSize": 7.5, "fontWeight": "bold", "align": "center", "baseline": "middle", "color": "#000000"}, "encoding": {"x": {"datum": 2002.6, "type": "quantitative"}, "y": {"datum": -4.76, "type": "quantitative"}, "text": {"value": "R² = 0.3226"}, "color": {"value": "#000000"}}}
]
}
],
"spacing": 76, "bounds": "flush",
"resolve": {"scale": {"color": "independent", "shape": "independent"}, "legend": {"color": "independent", "shape": "independent"}}
},
{
"hconcat": [
{
"width": 404, "height": 200,
"title": "Temperatura mínima - Conceição do Araguaia",
"data": {"name": "cda"},
"encoding": {
"x": {"field": "ano", "type": "quantitative", "title": "Ano", "scale": {"domain": [1961, 2007], "nice": false, "zero": false}, "axis": {"values": [1961,1962,1963,1964,1965,1966,1967,1968,1969,1970,1971,1972,1973,1974,1975,1976,1977,1978,1979,1980,1981,1982,1983,1984,1985,1986,1987,1988,1989,1990,1991,1992,1993,1994,1995,1996,1997,1998,1999,2000,2001,2002,2003,2004,2005,2006,2007], "labelExpr": "datum.value % 2 === 1 ? datum.label : ''", "labelAngle": 0, "labelFontSize": 7, "format": "d", "labelPadding": 2, "titlePadding": 5}},
"y": {"field": "valor", "type": "quantitative", "title": "Temperatura mínima (°C)", "scale": {"domain": [15.5, 24.5], "nice": false, "zero": false}, "axis": {"values": [15.5,16.5,17.5,18.5,19.5,20.5,21.5,22.5,23.5,24.5], "format": ".1f"}},
"color": {"field": "serie", "type": "nominal", "scale": {"domain": ["Temperatura mínima", "Média móvel 5 anos", "Linear (Temperatura mínima)"], "range": ["#4a7ebb", "#be4b48", "#3a3a3a"]}, "legend": {"title": null}}
},
"layer": [
{"transform": [{"filter": "datum.serie !== 'Linear (Temperatura mínima)'"}], "mark": {"type": "line", "strokeWidth": 1.75}},
{"transform": [{"filter": "datum.serie === 'Temperatura mínima'"}], "mark": {"type": "point", "shape": "square", "filled": true, "opacity": 1, "size": 16}},
{"transform": [{"filter": "datum.serie === 'Média móvel 5 anos'"}], "mark": {"type": "point", "shape": "triangle-up", "filled": true, "opacity": 1, "size": 18}},
{"transform": [{"filter": "datum.serie === 'Linear (Temperatura mínima)'"}], "mark": {"type": "line", "strokeWidth": 1}},
{"transform": [{"filter": "false"}], "mark": {"type": "point", "filled": false, "opacity": 1}, "encoding": {"shape": {"field": "serie", "type": "nominal", "scale": {"domain": ["Temperatura mínima", "Média móvel 5 anos", "Linear (Temperatura mínima)"], "range": ["M-1,0H1M-0.3,-0.3H0.3V0.3H-0.3Z", "M-1,0H1M0,-0.42L0.36,0.26H-0.36Z", "M-1,0H1"]}, "legend": {"title": null}}}}
]
},
{
"width": 406, "height": 200,
"title": "Temperatura mínima - Conceição do Araguaia",
"data": {"name": "cdad"},
"encoding": {
"x": {"field": "ano", "type": "quantitative", "title": "Ano", "scale": {"domain": [1961, 2007], "nice": false, "zero": false}, "axis": {"values": [1961,1963,1965,1967,1969,1971,1973,1975,1977,1979,1981,1983,1985,1987,1989,1991,1993,1995,1997,1999,2001,2003,2005,2007], "labelAngle": 0, "labelFontSize": 7, "format": "d", "domain": false, "ticks": false, "labelPadding": 6, "titlePadding": 5}},
"y": {"field": "valor", "type": "quantitative", "title": "Desvio da Temperatura mínima (°C)", "scale": {"domain": [-5, 5], "nice": false, "zero": false}, "axis": {"values": [-5,-4,-3,-2,-1,0,1,2,3,4,5], "format": ".1f", "labelPadding": 7, "titlePadding": 4, "gridColor": {"condition": {"test": "datum.value === 0", "value": "#7f7f7f"}, "value": "#b4b4b4"}}},
"color": {"field": "serie", "type": "nominal", "scale": {"domain": ["Desvio da Temperatura mínima", "Linear (Desvio da Temperatura mínima)"], "range": ["#73474f", "#3a3a3a"]}, "legend": {"title": null}}
},
"layer": [
{"transform": [{"filter": "datum.serie === 'Desvio da Temperatura mínima'"}], "mark": {"type": "tick", "orient": "vertical", "size": 5, "thickness": 1}, "encoding": {"y": {"datum": 0}, "color": {"value": "#7f7f7f"}}},
{"transform": [{"filter": "datum.serie === 'Linear (Desvio da Temperatura mínima)'"}], "mark": {"type": "line", "strokeWidth": 1}},
{"transform": [{"filter": "datum.serie === 'Desvio da Temperatura mínima'"}], "mark": {"type": "point", "shape": "diamond", "filled": true, "opacity": 1, "size": 22}},
{"transform": [{"filter": "false"}], "mark": {"type": "point", "filled": false, "opacity": 1}, "encoding": {"shape": {"field": "serie", "type": "nominal", "scale": {"domain": ["Desvio da Temperatura mínima", "Linear (Desvio da Temperatura mínima)"], "range": ["M0,-0.36L0.36,0L0,0.36L-0.36,0Z", "M-1,0H1"]}, "legend": {"title": null}}}},
{"transform": [{"filter": "datum.serie === 'Linear (Desvio da Temperatura mínima)' && datum.ano === 2007"}], "mark": {"type": "text", "font": "Lato", "fontSize": 7.5, "fontWeight": "bold", "align": "center", "baseline": "middle", "color": "#000000"}, "encoding": {"x": {"datum": 2002.6, "type": "quantitative"}, "y": {"datum": -4.3, "type": "quantitative"}, "text": {"value": "y = 0.1289x - 3.0775"}, "color": {"value": "#000000"}}},
{"transform": [{"filter": "datum.serie === 'Linear (Desvio da Temperatura mínima)' && datum.ano === 2007"}], "mark": {"type": "text", "font": "Lato", "fontSize": 7.5, "fontWeight": "bold", "align": "center", "baseline": "middle", "color": "#000000"}, "encoding": {"x": {"datum": 2003.4, "type": "quantitative"}, "y": {"datum": -4.8, "type": "quantitative"}, "text": {"value": "R² = 0.795"}, "color": {"value": "#000000"}}}
]
}
],
"spacing": 83, "bounds": "flush",
"resolve": {"scale": {"color": "independent", "shape": "independent"}, "legend": {"color": "independent", "shape": "independent"}}
},
{
"hconcat": [
{
"width": 411, "height": 194,
"title": "Temperatura mínima - Caxias",
"data": {"name": "cax"},
"encoding": {
"x": {"field": "ano", "type": "quantitative", "title": "Ano", "scale": {"domain": [1976, 2007], "nice": false, "zero": false}, "axis": {"values": [1976,1977,1978,1979,1980,1981,1982,1983,1984,1985,1986,1987,1988,1989,1990,1991,1992,1993,1994,1995,1996,1997,1998,1999,2000,2001,2002,2003,2004,2005,2006,2007], "labelAngle": -90, "format": "d"}},
"y": {"field": "valor", "type": "quantitative", "title": "Temperatura mínima (°C)", "scale": {"domain": [20.5, 24.5], "nice": false, "zero": false}, "axis": {"values": [20.5,21,21.5,22,22.5,23,23.5,24,24.5], "format": ".1f"}},
"color": {"field": "serie", "type": "nominal", "scale": {"domain": ["Temperatura mínima", "Média móvel 5 anos", "Linear (Temperatura mínima)"], "range": ["#4a7ebb", "#be4b48", "#3a3a3a"]}, "legend": {"title": null}}
},
"layer": [
{"transform": [{"filter": "datum.serie !== 'Linear (Temperatura mínima)'"}], "mark": {"type": "line", "strokeWidth": 1.75}},
{"transform": [{"filter": "datum.serie === 'Temperatura mínima'"}], "mark": {"type": "point", "shape": "square", "filled": true, "opacity": 1, "size": 16}},
{"transform": [{"filter": "datum.serie === 'Média móvel 5 anos'"}], "mark": {"type": "point", "shape": "triangle-up", "filled": true, "opacity": 1, "size": 18}},
{"transform": [{"filter": "datum.serie === 'Linear (Temperatura mínima)'"}], "mark": {"type": "line", "strokeWidth": 1}},
{"transform": [{"filter": "false"}], "mark": {"type": "point", "filled": false, "opacity": 1}, "encoding": {"shape": {"field": "serie", "type": "nominal", "scale": {"domain": ["Temperatura mínima", "Média móvel 5 anos", "Linear (Temperatura mínima)"], "range": ["M-1,0H1M-0.3,-0.3H0.3V0.3H-0.3Z", "M-1,0H1M0,-0.42L0.36,0.26H-0.36Z", "M-1,0H1"]}, "legend": {"title": null}}}}
]
},
{
"width": 414, "height": 194,
"title": "Temperatura mínima - Caxias",
"data": {"name": "caxd"},
"encoding": {
"x": {"field": "ano", "type": "quantitative", "title": "Ano", "scale": {"domain": [1976, 2007], "nice": false, "zero": false}, "axis": {"values": [1976,1977,1978,1979,1980,1981,1982,1983,1984,1985,1986,1987,1988,1989,1990,1991,1992,1993,1994,1995,1996,1997,1998,1999,2000,2001,2002,2003,2004,2005,2006,2007], "labelAngle": -90, "format": "d", "domain": false, "ticks": false, "labelPadding": 7}},
"y": {"field": "valor", "type": "quantitative", "title": "Desvio da Temperatura mínima (°C)", "scale": {"domain": [-5, 5], "nice": false, "zero": false}, "axis": {"values": [-5,-4,-3,-2,-1,0,1,2,3,4,5], "format": ".1f", "labelPadding": 7, "titlePadding": 4, "gridColor": {"condition": {"test": "datum.value === 0", "value": "#7f7f7f"}, "value": "#b4b4b4"}}},
"color": {"field": "serie", "type": "nominal", "scale": {"domain": ["Desvio da Temperatura mínima", "Linear (Desvio da Temperatura mínima)"], "range": ["#73474f", "#3a3a3a"]}, "legend": {"title": null}}
},
"layer": [
{"transform": [{"filter": "datum.serie === 'Desvio da Temperatura mínima'"}], "mark": {"type": "tick", "orient": "vertical", "size": 5, "thickness": 1}, "encoding": {"y": {"datum": 0}, "color": {"value": "#7f7f7f"}}},
{"transform": [{"filter": "datum.serie === 'Linear (Desvio da Temperatura mínima)'"}], "mark": {"type": "line", "strokeWidth": 1}},
{"transform": [{"filter": "datum.serie === 'Desvio da Temperatura mínima'"}], "mark": {"type": "point", "shape": "diamond", "filled": true, "opacity": 1, "size": 22}},
{"transform": [{"filter": "false"}], "mark": {"type": "point", "filled": false, "opacity": 1}, "encoding": {"shape": {"field": "serie", "type": "nominal", "scale": {"domain": ["Desvio da Temperatura mínima", "Linear (Desvio da Temperatura mínima)"], "range": ["M0,-0.36L0.36,0L0,0.36L-0.36,0Z", "M-1,0H1"]}, "legend": {"title": null}}}},
{"transform": [{"filter": "datum.serie === 'Linear (Desvio da Temperatura mínima)' && datum.ano === 2007"}], "mark": {"type": "text", "font": "Lato", "fontSize": 7.5, "fontWeight": "bold", "align": "center", "baseline": "middle", "color": "#000000"}, "encoding": {"x": {"datum": 2003.9, "type": "quantitative"}, "y": {"datum": -4.23, "type": "quantitative"}, "text": {"value": "y = 0.0679x - 1.1404"}, "color": {"value": "#000000"}}},
{"transform": [{"filter": "datum.serie === 'Linear (Desvio da Temperatura mínima)' && datum.ano === 2007"}], "mark": {"type": "text", "font": "Lato", "fontSize": 7.5, "fontWeight": "bold", "align": "center", "baseline": "middle", "color": "#000000"}, "encoding": {"x": {"datum": 2004.6, "type": "quantitative"}, "y": {"datum": -4.76, "type": "quantitative"}, "text": {"value": "R² = 0.5261"}, "color": {"value": "#000000"}}}
]
}
],
"spacing": 76, "bounds": "flush",
"resolve": {"scale": {"color": "independent", "shape": "independent"}, "legend": {"color": "independent", "shape": "independent"}}
},
{
"width": 901, "height": 261,
"data": {"name": "txt"},
"encoding": {
"x": {"datum": 0, "type": "quantitative", "scale": {"domain": [0, 1]}, "axis": null},
"y": {"field": "linha", "type": "quantitative", "scale": {"domain": [0.4828, 9.4828], "reverse": true, "nice": false, "zero": false}, "axis": null},
"text": {"field": "texto", "type": "nominal"}
},
"layer": [
{"transform": [{"filter": "datum.estilo === 'normal'"}], "mark": {"type": "text", "align": "left", "baseline": "middle", "font": "Liberation Serif", "fontSize": 25.4, "color": "#000000", "dx": -47}},
{"transform": [{"filter": "datum.estilo === 'negrito'"}], "mark": {"type": "text", "align": "left", "baseline": "middle", "font": "Liberation Serif", "fontSize": 25.4, "fontWeight": "bold", "color": "#000000", "dx": -47}},
{"transform": [{"filter": "datum.estilo === 'cont1'"}], "mark": {"type": "text", "align": "left", "baseline": "middle", "font": "Liberation Serif", "fontSize": 25.4, "color": "#000000", "dx": 43}},
{"transform": [{"filter": "datum.estilo === 'cont2'"}], "mark": {"type": "text", "align": "left", "baseline": "middle", "font": "Liberation Serif", "fontSize": 25.4, "color": "#000000", "dx": 149}}
]
}
],
"config": {
"view": {"stroke": null},
"font": "Lato",
"title": {"font": "Lato", "fontSize": 10, "fontWeight": "bold", "color": "#000000", "anchor": "middle", "frame": "bounds", "offset": 6},
"axis": {"labelFont": "Lato", "labelFontSize": 7.5, "labelFontWeight": "bold", "labelColor": "#000000", "titleFont": "Lato", "titleFontSize": 7.5, "titleFontWeight": "bold", "titleColor": "#000000", "gridColor": "#b4b4b4", "gridWidth": 1, "domainColor": "#7f7f7f", "tickColor": "#7f7f7f"},
"axisX": {"grid": false, "tickSize": 4, "labelPadding": 3, "titlePadding": 7, "labelOverlap": false, "labelFlush": false},
"axisY": {"domain": false, "ticks": false, "labelPadding": 8, "titlePadding": 6, "labelOverlap": false, "grid": true},
"legend": {"orient": "bottom", "direction": "horizontal", "labelFont": "Lato", "labelFontSize": 7.5, "labelFontWeight": "bold", "labelColor": "#000000", "strokeColor": "#6e6e6e", "padding": 5, "columnPadding": 20, "symbolSize": 200, "symbolStrokeWidth": 1.5, "symbolOpacity": 1, "labelOffset": 3, "offset": 4, "layout": {"bottom": {"anchor": "middle"}}}
}
}
